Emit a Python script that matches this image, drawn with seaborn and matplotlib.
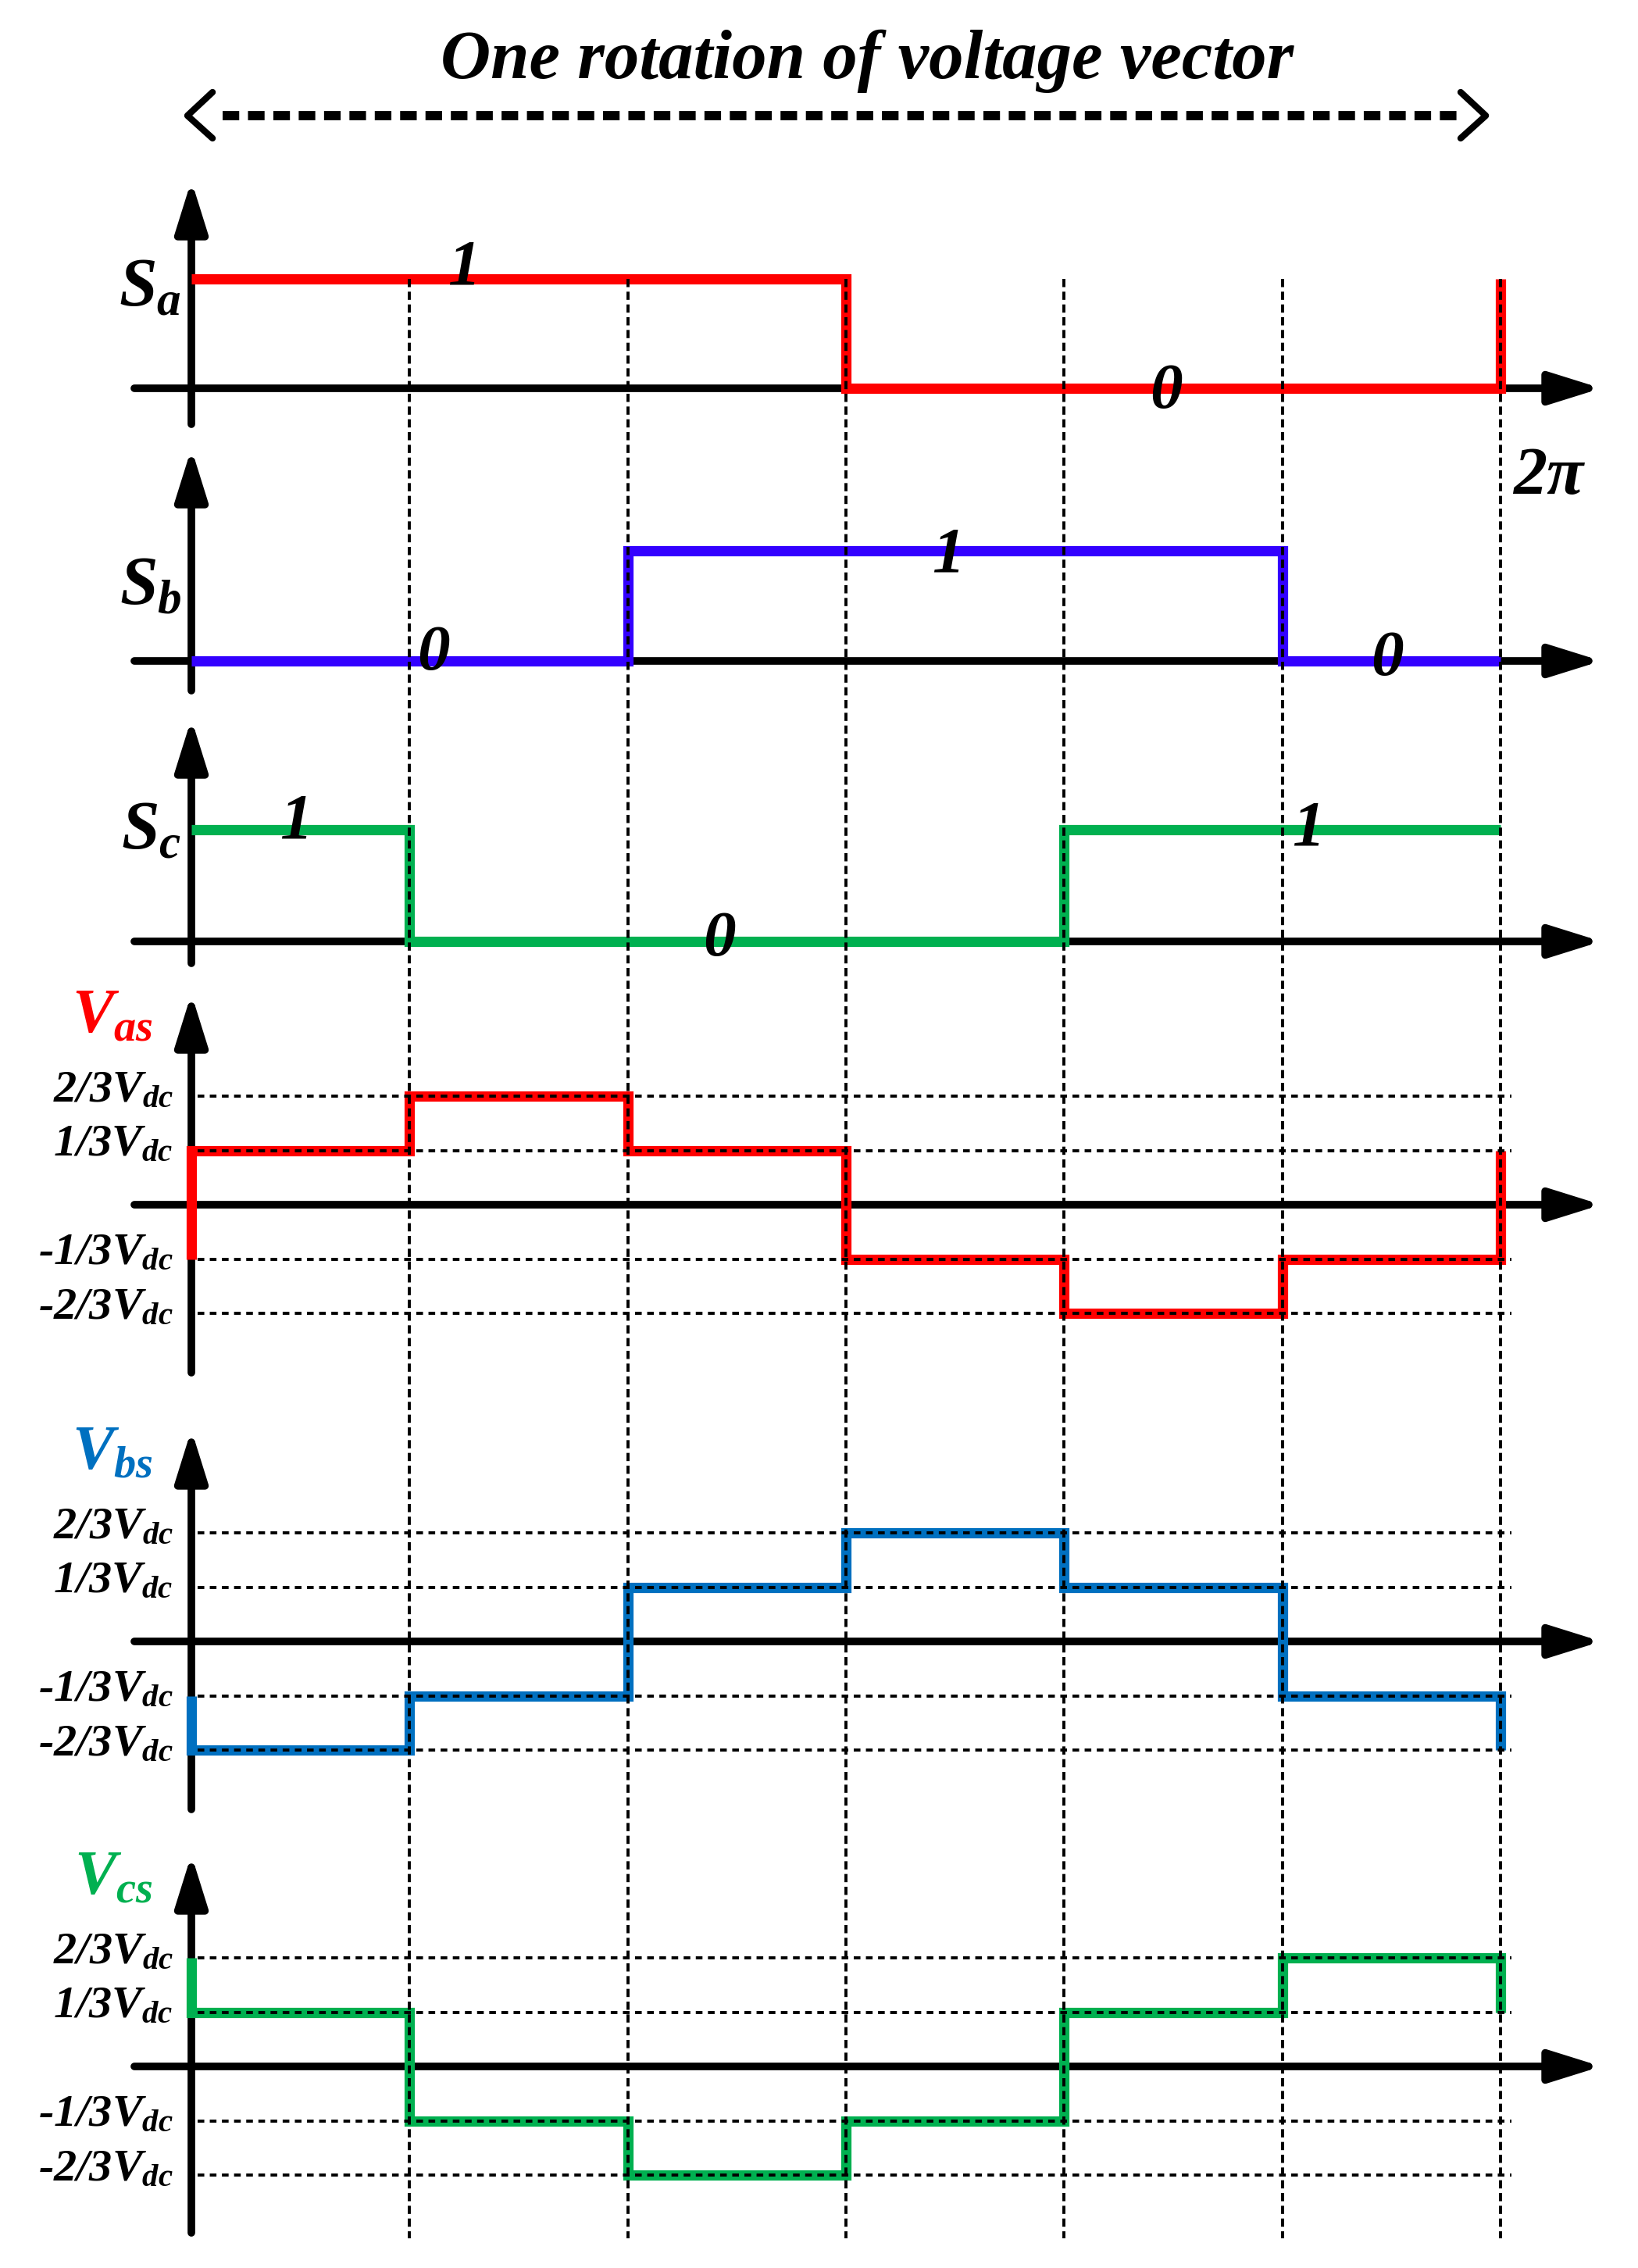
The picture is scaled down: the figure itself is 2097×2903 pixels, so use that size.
import numpy as np
import pandas as pd
import seaborn as sns
from matplotlib import pyplot as plt

sns.set_style("white")
plt.rcParams["font.family"] = ["Liberation Serif", "DejaVu Serif"]
plt.rcParams["text.color"] = "black"
plt.rcParams["mathtext.fontset"] = "custom"
plt.rcParams["mathtext.rm"] = "Liberation Serif:bold:italic"
plt.rcParams["mathtext.it"] = "Liberation Serif:bold:italic"
plt.rcParams["mathtext.bf"] = "Liberation Serif:bold:italic"

# limites dos setores, em unidades de pi/3 (0 .. 2pi)
sector_edges = [0, 1, 2, 3, 4, 5, 6]

# estados das chaves em cada setor
sa_state = [1, 1, 1, 0, 0, 0]
sb_state = [0, 0, 1, 1, 1, 0]
sc_state = [1, 0, 0, 0, 1, 1]

# tensões de fase em cada setor, em unidades de Vdc/3
vas_level = [1, 2, 1, -1, -2, -1]
vbs_level = [-2, -1, 1, 2, 1, -1]
vcs_level = [1, -1, -2, -1, 1, 2]

v_ticks = [2, 1, -1, -2]
v_tick_labels = ["2/3$V_{dc}$", "1/3$V_{dc}$", "-1/3$V_{dc}$", "-2/3$V_{dc}$"]

# rótulos 0/1 escritos sobre as formas de onda (texto, setor, nível)
sa_notes = [("1", 1.25, 1.09), ("0", 4.47, -0.04)]
sb_notes = [("0", 1.11, 0.06), ("1", 3.47, 0.95), ("0", 5.48, 0.01)]
sc_notes = [("1", 0.48, 1.06), ("0", 2.42, 0.01), ("1", 5.12, 1.0)]

RED = "#FF0000"
VIOLET = "#3300FF"
GREEN = "#00B050"
BLUE = "#0070C0"

W, H = 2097, 2903
X0, DX = 245, 279.3          # pixel do ângulo 0 e largura de um setor
XLIM = (-X0 / DX, (W - X0) / DX)

fig = plt.figure(figsize=(W / 100, H / 100), dpi=100)


def arrow(ax, start, end):
    ax.annotate("", xy=end, xytext=start, annotation_clip=False, zorder=2,
                arrowprops=dict(arrowstyle="-|>,head_length=0.40,head_width=0.125",
                                lw=7, color="black", shrinkA=0, shrinkB=0,
                                mutation_scale=100))


def panel(values, color, zero, unit, top, bottom, wrap_start):
    """Um painel: forma de onda em degraus + eixos com setas."""
    ax = fig.add_axes([0, 1 - bottom / H, 1, (bottom - top) / H])
    y_lo, y_hi = (zero - bottom) / unit, (zero - top) / unit

    xs = list(sector_edges)
    ys = list(values) + [values[0]]
    if wrap_start:
        xs = [sector_edges[0]] + xs
        ys = [values[-1]] + ys
    sns.lineplot(x=xs, y=ys, ax=ax, drawstyle="steps-post", color=color, lw=9.5,
                 estimator=None, sort=False, legend=False, zorder=4,
                 solid_capstyle="butt", solid_joinstyle="miter")

    arrow(ax, ((172 - X0) / DX, 0), ((2050 - X0) / DX, 0))
    arrow(ax, (0, y_lo), (0, y_hi - 5 / unit))

    ax.set_xlim(XLIM)
    ax.set_ylim(y_lo, y_hi)
    ax.axis("off")
    return ax


txt = dict(fontweight="bold", fontstyle="italic", color="black")

# ---- sinais de chaveamento
s_specs = [
    (sa_state, RED, 497, 140, 226, 543, "$S_a$", 0.91, sa_notes),
    (sb_state, VIOLET, 846, 141, 569, 884, "$S_b$", 0.67, sb_notes),
    (sc_state, GREEN, 1205, 143, 915, 1233, "$S_c$", 0.98, sc_notes),
]
s_axes = []
for vals, color, zero, unit, top, bottom, label, ly, notes in s_specs:
    ax = panel(vals, color, zero, unit, top, bottom, wrap_start=False)
    ax.text((232 - X0) / DX, ly, label, ha="right", va="center", fontsize=63, **txt)
    for t, x, y in notes:
        ax.text(x, y, t, ha="center", va="center", fontsize=60, zorder=6, **txt)
    s_axes.append(ax)

s_axes[0].text(6.22, -0.82, "2π", ha="center", va="center", fontsize=62, **txt)

# ---- tensões de fase
v_specs = [
    (vas_level, RED, 1542, 1267, 1757, "$V_{as}$"),
    (vbs_level, BLUE, 2101, 1825, 2316, "$V_{bs}$"),
    (vcs_level, GREEN, 2645, 2369, 2858, "$V_{cs}$"),
]
for vals, color, zero, top, bottom, label in v_specs:
    ax = panel(vals, color, zero, 69.5, top, bottom, wrap_start=True)
    ax.hlines(v_ticks, 0.03, 6.05, colors="black", linestyles=(0, (2.2, 1.8)), lw=2.8, zorder=5)
    for lv, lab in zip(v_ticks, v_tick_labels):
        ax.text((222 - X0) / DX, lv + 0.1, lab, ha="right", va="center", fontsize=42, **txt)
    lab_kw = dict(txt, color=color)
    ax.text((196 - X0) / DX, 3.45, label, ha="right", va="center", fontsize=58, **lab_kw)

# ---- camada de cima: divisões dos setores e seta de uma rotação
top_ax = fig.add_axes([0, 0, 1, 1])
top_ax.set_xlim(XLIM)
top_ax.set_ylim(H, 0)
top_ax.axis("off")
top_ax.vlines(sector_edges[1:], 357, 2865, colors="black", linestyles=(0, (2.7, 1.5)), lw=2.8, zorder=7)

top_ax.plot([0.143, 5.80], [148, 148], color="black", lw=8.5, linestyle=(0, (1.8, 0.95)))
top_ax.plot([0.097, -0.018, 0.097], [118, 148, 177], color="black", lw=6,
            solid_joinstyle="round", solid_capstyle="round")
top_ax.plot([5.818, 5.933, 5.818], [118, 148, 177], color="black", lw=6,
            solid_joinstyle="round", solid_capstyle="round")

fig.text(1110 / W, 1 - 100 / H, "One rotation of voltage vector", ha="center", va="baseline",
         fontsize=64, **txt)

fig.savefig("out.png", dpi=100)
